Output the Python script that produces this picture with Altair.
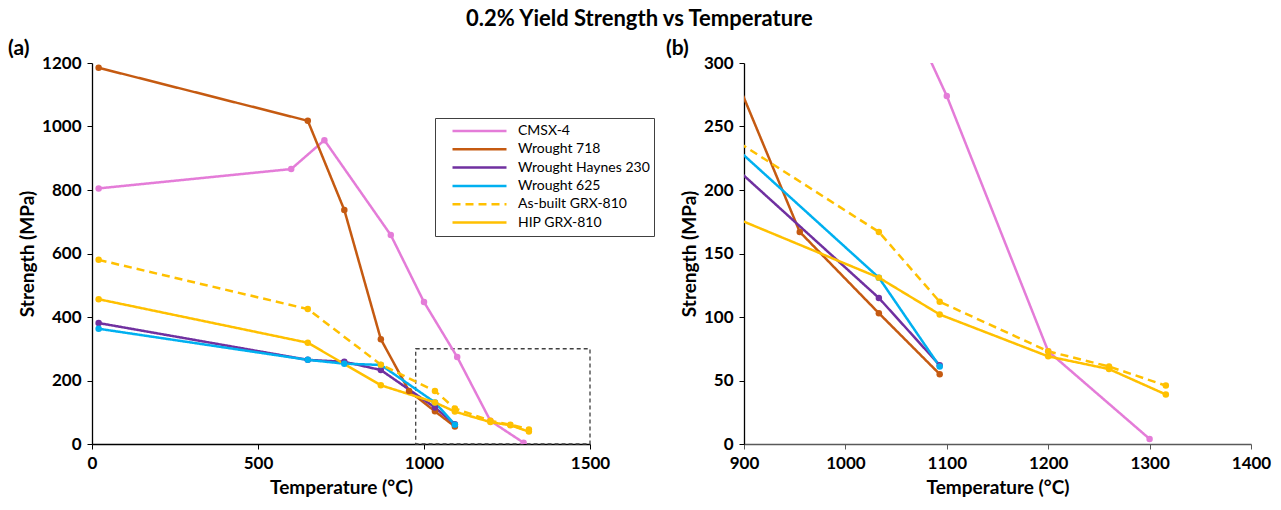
import altair as alt
import pandas as pd

# ---- data ----
series_names = ["CMSX-4", "Wrought 718", "Wrought Haynes 230", "Wrought 625",
                "As-built GRX-810", "HIP GRX-810"]
series_colors = ["#E47CD8", "#C55A11", "#7030A0", "#00B0F0", "#FFC000", "#FFC000"]
series_dash = [[1, 0], [1, 0], [1, 0], [1, 0], [8, 5], [1, 0]]

cmsx4_T = [20, 600, 700, 900, 1000, 1100, 1200, 1300]
cmsx4_S = [805, 866, 957, 658, 447, 274, 73, 4]
w718_T = [20, 650, 760, 870, 955, 1033, 1093]
w718_S = [1185, 1018, 737, 330, 167, 103, 55]
h230_T = [20, 650, 760, 870, 1033, 1093]
h230_S = [381, 265, 259, 233, 115, 62]
w625_T = [20, 650, 760, 870, 1033, 1093]
w625_S = [363, 265, 253, 249, 131, 61]
asb_T = [20, 650, 870, 1033, 1093, 1200, 1260, 1316]
asb_S = [580, 425, 250, 167, 112, 73, 61, 46]
hip_T = [20, 650, 870, 1033, 1093, 1200, 1260, 1316]
hip_S = [456, 319, 185, 131, 102, 69, 59, 39]

# zoom window drawn on panel (a): T from, T to, S from, S to
inset_T = [975, 1500]
inset_S = [0, 300]

left_x_ticks = [0, 500, 1000, 1500]
left_y_ticks = [0, 200, 400, 600, 800, 1000, 1200]
right_x_ticks = [900, 1000, 1100, 1200, 1300, 1400]
right_y_ticks = [0, 50, 100, 150, 200, 250, 300]

title_text = "0.2% Yield Strength vs Temperature"
x_title = "Temperature (°C)"
y_title = "Strength (MPa)"

# ---- build table ----
rows = []
for name, T, S in [
    ("CMSX-4", cmsx4_T, cmsx4_S),
    ("Wrought 718", w718_T, w718_S),
    ("Wrought Haynes 230", h230_T, h230_S),
    ("Wrought 625", w625_T, w625_S),
    ("As-built GRX-810", asb_T, asb_S),
    ("HIP GRX-810", hip_T, hip_S),
]:
    for i, (t, s) in enumerate(zip(T, S)):
        rows.append({"series": name, "T": t, "S": s, "order": i})
df = pd.DataFrame(rows)

FONT = "Lato"

color_scale = alt.Scale(domain=series_names, range=series_colors)
dash_scale = alt.Scale(domain=series_names, range=series_dash)


def panel(xdom, ydom, xticks, yticks, label, label_dx, with_legend, axis_color):
    x_enc = alt.X("T:Q", scale=alt.Scale(domain=xdom, nice=False, zero=False),
                  axis=alt.Axis(values=xticks, title=x_title, grid=False,
                                domainColor=axis_color, tickColor=axis_color,
                                format="d", labelFlush=False))
    y_enc = alt.Y("S:Q", scale=alt.Scale(domain=ydom, nice=False),
                  axis=alt.Axis(values=yticks, title=y_title, grid=False,
                                domainColor="#000000", tickColor="#000000",
                                format="d", labelFlush=False))
    if with_legend:
        legend = alt.Legend(title=None, orient="none", legendX=343, legendY=55,
                            symbolType="stroke", symbolSize=2916,
                            symbolStrokeWidth=2.5, labelFontSize=14,
                            labelFont=FONT, labelFontWeight="normal",
                            labelColor="#000000", strokeColor="#404040",
                            padding=4, rowPadding=0.3, clipHeight=18,
                            symbolOffset=12, labelOffset=10)
    else:
        legend = None
    base = alt.Chart(df)
    lines = base.mark_line(clip=True, strokeWidth=2.5).encode(
        x=x_enc, y=y_enc,
        color=alt.Color("series:N", scale=color_scale, legend=legend, sort=series_names),
        strokeDash=alt.StrokeDash("series:N", scale=dash_scale, legend=legend, sort=series_names),
        order="order:Q",
        detail="series:N",
    )
    pts = base.mark_circle(clip=True, size=42, opacity=1).encode(
        x="T:Q", y="S:Q",
        color=alt.Color("series:N", scale=color_scale, legend=None),
    )
    lab = alt.Chart(alt.Data(values=[{"t": label}])).mark_text(
        align="left", baseline="middle", font=FONT, fontSize=21, fontWeight="bold",
        color="#000000").encode(
        x=alt.value(label_dx), y=alt.value(-14), text="t:N")
    return [lines, pts, lab]


left_layers = panel([0, 1500], [0, 1200], left_x_ticks, left_y_ticks,
                    "(a)", -84, True, "#000000")
box_df = pd.DataFrame({"x0": [inset_T[0]], "x1": [inset_T[1]],
                       "y0": [inset_S[0]], "y1": [inset_S[1]]})
box = alt.Chart(box_df).mark_rect(fill=None, fillOpacity=0, stroke="#404040",
                                  strokeWidth=1.3, strokeDash=[4, 3]).encode(
    x="x0:Q", x2="x1:Q", y="y0:Q", y2="y1:Q")
left = alt.layer(box, *left_layers).properties(width=498, height=381)

right_layers = panel([900, 1400], [0, 300], right_x_ticks, right_y_ticks,
                     "(b)", -78, False, "#595959")
right = alt.layer(*right_layers).properties(width=507, height=381)

chart = alt.hconcat(left, right, spacing=56).properties(
    title=alt.Title(title_text, anchor="middle", fontSize=22, font=FONT,
                    fontWeight="bold", color="#000000", offset=7),
    padding={"left": 8, "top": 8, "right": 5, "bottom": 5},
).resolve_scale(x="independent", y="independent").configure_view(
    stroke=None
).configure_axis(
    labelFont=FONT, labelFontSize=17, labelFontWeight="bold", labelColor="#000000",
    titleFont=FONT, titleFontSize=19, titleFontWeight="bold", titleColor="#000000",
    tickSize=5, labelPadding=6, titlePadding=7, domainWidth=1.3,
).configure_axisY(titlePadding=4)

chart.save("out.html", embed_options={"renderer": "svg", "actions": False})
